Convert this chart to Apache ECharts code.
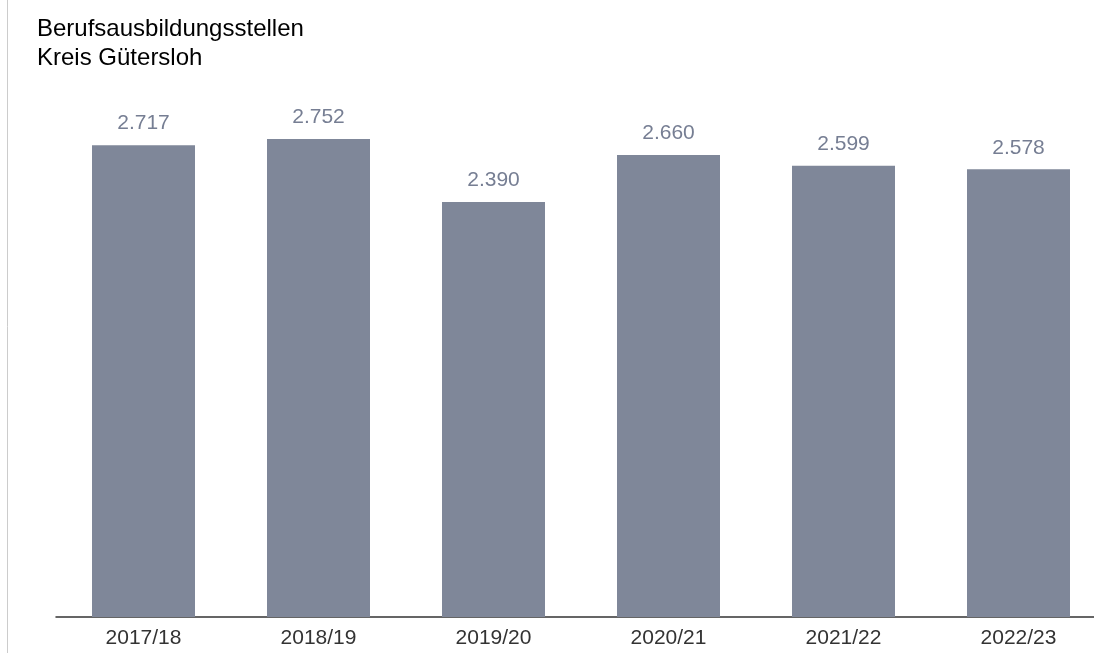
<!DOCTYPE html>
<html>
<head>
<meta charset="utf-8">
<script src="https://cdn.jsdelivr.net/npm/echarts@6/dist/echarts.min.js"></script>
<style>
html,body{margin:0;padding:0;background:#fff;}
#c{width:1094px;height:653px;}
</style>
</head>
<body>
<div id="c"></div>
<script>
const titleText = 'Berufsausbildungsstellen\nKreis Gütersloh';
const categories = ['2017/18', '2018/19', '2019/20', '2020/21', '2021/22', '2022/23'];
const values = [2717, 2752, 2390, 2660, 2599, 2578];

function fmt(v) {
  return String(v).replace(/\B(?=(\d{3})+(?!\d))/g, '.');
}

const chart = echarts.init(document.getElementById('c'), null, {renderer: 'canvas'});
chart.setOption({
  animation: false,
  backgroundColor: '#ffffff',
  textStyle: {fontFamily: 'Liberation Sans, Arial, sans-serif'},
  title: {
    text: titleText,
    left: 32,
    top: 10,
    textStyle: {
      fontFamily: 'Liberation Sans, Arial, sans-serif',
      fontSize: 24,
      fontWeight: 'normal',
      color: '#000000',
      lineHeight: 29
    }
  },
  graphic: [{
    type: 'line',
    shape: {x1: 7.5, y1: 0, x2: 7.5, y2: 653},
    style: {stroke: '#cccccc', lineWidth: 1},
    silent: true
  }],
  grid: {left: 56, width: 1050, top: 96, bottom: 36, containLabel: false, outerBoundsMode: 'none'},
  xAxis: {
    type: 'category',
    data: categories,
    axisLine: {show: true, lineStyle: {color: '#333333', width: 1.5}},
    axisTick: {show: false},
    axisLabel: {
      color: '#333333',
      fontSize: 21,
      margin: 11,
      fontFamily: 'Liberation Sans, Arial, sans-serif'
    }
  },
  yAxis: {
    type: 'value',
    min: 0,
    max: 3000,
    show: false,
    splitLine: {show: false}
  },
  series: [{
    type: 'bar',
    data: values,
    barWidth: 103,
    itemStyle: {color: '#7f8799'},
    label: {
      show: true,
      position: 'top',
      distance: 11,
      color: '#767e93',
      fontSize: 21,
      fontFamily: 'Liberation Sans, Arial, sans-serif',
      formatter: p => fmt(p.value)
    }
  }]
});
</script>
</body>
</html>
